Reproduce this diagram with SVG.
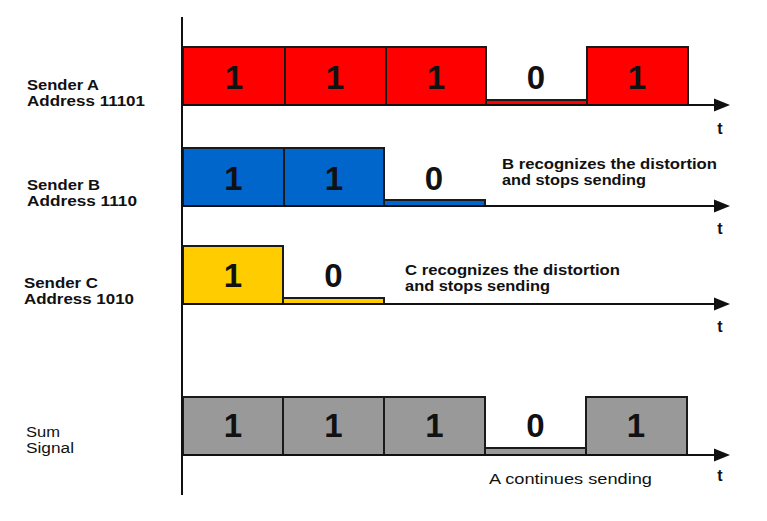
<svg xmlns="http://www.w3.org/2000/svg" width="767" height="521" viewBox="0 0 767 521">
<style>
  .lbl{font-family:"Liberation Sans",Arial,sans-serif;font-size:15px;font-weight:bold;fill:#111}
  .reg{font-family:"Liberation Sans",Arial,sans-serif;font-size:15px;font-weight:normal;fill:#111}
  .sm{font-size:14px}
  .dig{font-family:"Liberation Sans",Arial,sans-serif;font-size:33px;font-weight:bold;fill:#111;text-anchor:middle}
  .t{font-family:"Liberation Sans",Arial,sans-serif;font-size:16px;font-weight:bold;fill:#111;text-anchor:middle}
  .box{stroke:#1a1a1a;stroke-width:2}
  .red{fill:#FF0000}
  .blue{fill:#0066CC}
  .yel{fill:#FFCC00}
  .gray{fill:#999999}
  .axis{stroke:#111;stroke-width:2;fill:none}
</style>
<defs>
  <marker id="arr" markerUnits="userSpaceOnUse" markerWidth="18" markerHeight="14" refX="1" refY="7" orient="auto">
    <polygon points="0,0.5 16,7 0,13.5" fill="#111"/>
  </marker>
</defs>
<rect width="767" height="521" fill="#ffffff"/>

<g id="row-a">
  <rect class="box red" x="183" y="47" width="102" height="58"/>
  <rect class="box red" x="285" y="47" width="101" height="58"/>
  <rect class="box red" x="386" y="47" width="100" height="58"/>
  <rect class="box red" x="486" y="100" width="101" height="5"/>
  <rect class="box red" x="587" y="47" width="101" height="58"/>
  <text class="dig" x="234" y="89">1</text>
  <text class="dig" x="335" y="89">1</text>
  <text class="dig" x="436" y="89">1</text>
  <text class="dig" x="536" y="89">0</text>
  <text class="dig" x="637" y="89">1</text>
  <text class="lbl" x="27" y="90" textLength="72" lengthAdjust="spacingAndGlyphs">Sender A</text>
  <text class="lbl" x="27" y="106" textLength="118" lengthAdjust="spacingAndGlyphs">Address 11101</text>
  <text class="t" x="720" y="134">t</text>
</g>

<g id="row-b">
  <rect class="box blue" x="183" y="148" width="101" height="58"/>
  <rect class="box blue" x="284" y="148" width="100" height="58"/>
  <rect class="box blue" x="384" y="200" width="101" height="6"/>
  <text class="dig" x="233.5" y="190">1</text>
  <text class="dig" x="334" y="190">1</text>
  <text class="dig" x="434" y="190">0</text>
  <text class="lbl" x="27" y="190" textLength="73" lengthAdjust="spacingAndGlyphs">Sender B</text>
  <text class="lbl" x="27" y="206" textLength="110" lengthAdjust="spacingAndGlyphs">Address 1110</text>
  <text class="lbl" x="502" y="169" textLength="215" lengthAdjust="spacingAndGlyphs">B recognizes the distortion</text>
  <text class="lbl" x="502" y="185" textLength="144" lengthAdjust="spacingAndGlyphs">and stops sending</text>
  <text class="t" x="720" y="234">t</text>
</g>

<g id="row-c">
  <rect class="box yel" x="183" y="246" width="100" height="58"/>
  <rect class="box yel" x="283" y="298" width="101" height="6"/>
  <text class="dig" x="233" y="287">1</text>
  <text class="dig" x="333.5" y="287">0</text>
  <text class="lbl" x="24" y="288" textLength="74" lengthAdjust="spacingAndGlyphs">Sender C</text>
  <text class="lbl" x="24" y="304" textLength="110" lengthAdjust="spacingAndGlyphs">Address 1010</text>
  <text class="lbl" x="405" y="275" textLength="215" lengthAdjust="spacingAndGlyphs">C recognizes the distortion</text>
  <text class="lbl" x="405" y="291" textLength="145" lengthAdjust="spacingAndGlyphs">and stops sending</text>
  <text class="t" x="720" y="332">t</text>
</g>

<g id="row-sum">
  <rect class="box gray" x="183" y="397" width="100" height="58"/>
  <rect class="box gray" x="283" y="397" width="101" height="58"/>
  <rect class="box gray" x="384" y="397" width="101" height="58"/>
  <rect class="box gray" x="485" y="448" width="101" height="7"/>
  <rect class="box gray" x="586" y="397" width="101" height="58"/>
  <text class="dig" x="233" y="437">1</text>
  <text class="dig" x="333.5" y="437">1</text>
  <text class="dig" x="434.5" y="437">1</text>
  <text class="dig" x="535.5" y="437">0</text>
  <text class="dig" x="636" y="437">1</text>
  <text class="reg sm" x="26" y="437" textLength="34" lengthAdjust="spacingAndGlyphs">Sum</text>
  <text class="reg sm" x="26" y="453" textLength="48" lengthAdjust="spacingAndGlyphs">Signal</text>
  <text class="reg" x="489" y="484" textLength="163" lengthAdjust="spacingAndGlyphs">A continues sending</text>
  <text class="t" x="720" y="481">t</text>
</g>

<g id="connectors">
  <line class="axis" x1="182" y1="17" x2="182" y2="495"/>
  <line class="axis" x1="182" y1="105" x2="715" y2="105" marker-end="url(#arr)"/>
  <line class="axis" x1="182" y1="206" x2="715" y2="206" marker-end="url(#arr)"/>
  <line class="axis" x1="182" y1="304" x2="715" y2="304" marker-end="url(#arr)"/>
  <line class="axis" x1="182" y1="455" x2="715" y2="455" marker-end="url(#arr)"/>
</g>
</svg>
